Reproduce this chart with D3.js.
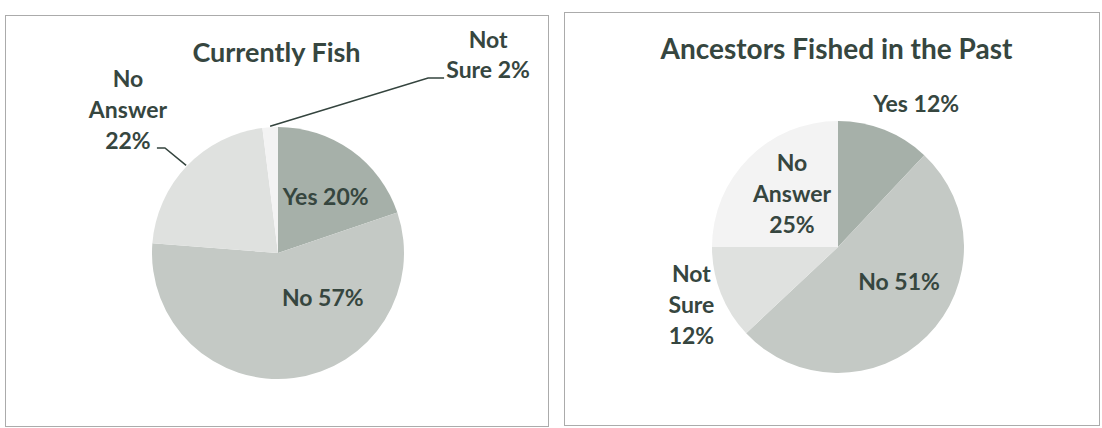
<!DOCTYPE html>
<html>
<head>
<meta charset="utf-8">
<script src="https://cdn.jsdelivr.net/npm/d3@7"></script>
<style>
  html, body { margin: 0; padding: 0; background: #ffffff; }
  svg { display: block; }
  text { font-family: Lato, "Open Sans", sans-serif; font-weight: bold; fill: #36463f; }
</style>
</head>
<body>
<svg id="chart" width="1102" height="428"></svg>
<script>
// Survey answers, first chart
const fishTitle = "Currently Fish";
const fishCategories = ["Yes", "No", "No Answer", "Not Sure"];
const fishValues = [20, 57, 22, 2];

// Survey answers, second chart
const ancestorsTitle = "Ancestors Fished in the Past";
const ancestorsCategories = ["Yes", "No", "Not Sure", "No Answer"];
const ancestorsValues = [12, 51, 12, 25];

// Slice shades by position in the series
const sliceShades = ["#a6b0a9", "#c4c9c5", "#dfe1df", "#f3f3f3"];

const svg = d3.select("#chart");
const LINE_H = 31;
const CAP_HALF = 8;

// Label layout: how each label's text is broken into lines, its offset from
// the slice centroid, and an optional leader (knee and stub end, relative to the label)
const fishLabelLayout = [
  { lines: d => [`Yes ${d}%`], offset: [11, -5] },
  { lines: d => [`No ${d}%`], offset: [37, -18] },
  { lines: d => ["No", "Answer", `${d}%`], offset: [-104.5, -100], lh: 31,
    leader: { knee: [37, 38.5], stub: [29, 38.5] } },
  { lines: d => ["Not", `Sure ${d}%`], offset: [214, -135.6], lh: 30,
    leader: { knee: [-60, 23.5], stub: [-44, 23.5] } }
];
const ancestorsLabelLayout = [
  { lines: d => [`Yes ${d}%`], offset: [55, -84] },
  { lines: d => [`No ${d}%`], offset: [16.5, -10] },
  { lines: d => ["Not", "Sure", `${d}%`], offset: [-88, 35] },
  { lines: d => ["No", "Answer", `${d}%`], offset: [-1.5, -8] }
];

function drawPanel(cfg) {
  const g = svg.append("g");

  // panel frame
  g.append("rect")
    .attr("x", cfg.frame[0] + 0.5).attr("y", cfg.frame[1] + 0.5)
    .attr("width", cfg.frame[2]).attr("height", cfg.frame[3])
    .attr("fill", "none").attr("stroke", "#ababab").attr("stroke-width", 1);

  // title
  g.append("text")
    .attr("x", cfg.titlePos[0]).attr("y", cfg.titlePos[1])
    .attr("text-anchor", "middle")
    .style("font-size", cfg.titleSize + "px")
    .text(cfg.title);

  const pie = d3.pie().sort(null).value(d => d.value);
  const arcs = pie(cfg.categories.map((c, i) => ({ category: c, value: cfg.values[i], index: i })));
  const shade = d3.scaleOrdinal().domain(d3.range(cfg.values.length)).range(sliceShades);

  const arc = d3.arc().innerRadius(0).outerRadius(cfg.radius);
  const rim = d3.arc().innerRadius(cfg.radius + 1).outerRadius(cfg.radius + 1);

  const pg = g.append("g").attr("transform", `translate(${cfg.center[0]},${cfg.center[1]})`);

  pg.selectAll("path.slice")
    .data(arcs)
    .join("path")
    .attr("class", "slice")
    .attr("d", arc)
    .attr("fill", d => shade(d.data.index));

  arcs.forEach((d, i) => {
    const lay = cfg.layout[i];
    const c = arc.centroid(d);
    const lx = c[0] + lay.offset[0];
    const ly = c[1] + lay.offset[1];
    const lines = lay.lines(d.data.value);
    const lh = lay.lh || LINE_H;

    const t = pg.append("text")
      .attr("text-anchor", "middle")
      .style("font-size", "23px");
    lines.forEach((ln, k) => {
      t.append("tspan")
        .attr("x", lx)
        .attr("y", ly + CAP_HALF + (k - (lines.length - 1) / 2) * lh)
        .text(ln);
    });

    if (lay.leader) {
      const e = rim.centroid(d);
      const pts = [e,
        [lx + lay.leader.knee[0], ly + lay.leader.knee[1]],
        [lx + lay.leader.stub[0], ly + lay.leader.stub[1]]];
      pg.append("path")
        .attr("d", d3.line()(pts))
        .attr("fill", "none")
        .attr("stroke", "#34443e")
        .attr("stroke-width", 1.5);
    }
  });
}

drawPanel({
  title: fishTitle, categories: fishCategories, values: fishValues,
  frame: [5, 15, 543, 411], titlePos: [276.5, 62], titleSize: 27,
  center: [278, 253], radius: 126, layout: fishLabelLayout
});

drawPanel({
  title: ancestorsTitle, categories: ancestorsCategories, values: ancestorsValues,
  frame: [564, 12, 535, 413], titlePos: [836.5, 59], titleSize: 28,
  center: [838, 247], radius: 126, layout: ancestorsLabelLayout
});
</script>
</body>
</html>
